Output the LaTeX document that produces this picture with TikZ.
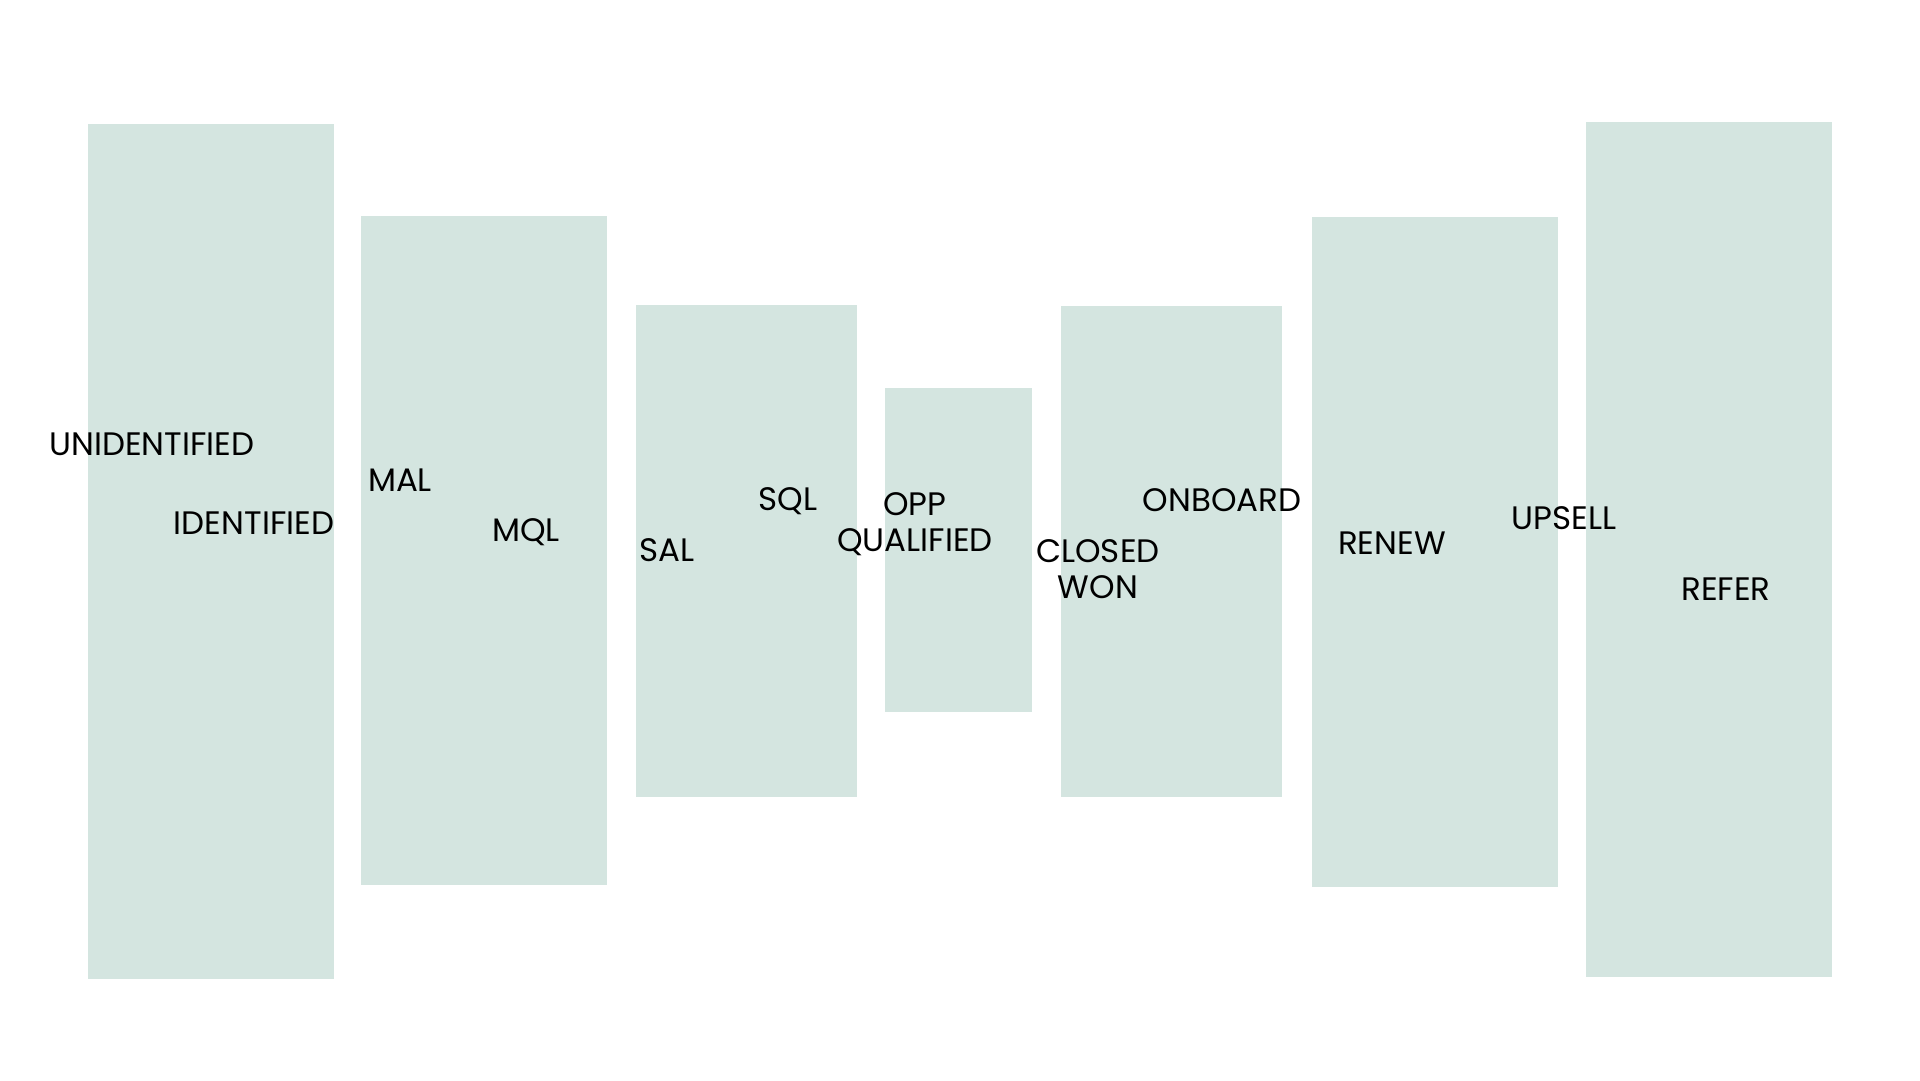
\documentclass[tikz,border=0pt]{standalone}
\usepackage{fontspec}
\setmainfont{Poppins}
\definecolor{stagefill}{RGB}{212,229,224}
\begin{document}
\begin{tikzpicture}[x=1pt,y=-1pt,
  stage/.style={fill=stagefill,draw=none},
  lbl/.style={font=\fontsize{32.5}{35.5}\selectfont,text=black,inner sep=0pt,align=center}]
\useasboundingbox (0,0) rectangle (1920,1080);
\fill[white] (0,0) rectangle (1920,1080);
\path[stage] (88,124) rectangle (334,979);
\path[stage] (361,216) rectangle (607,885);
\path[stage] (636,305) rectangle (857,797);
\path[stage] (885,388) rectangle (1032,712);
\path[stage] (1061,306) rectangle (1282,797);
\path[stage] (1312,217) rectangle (1558,887);
\path[stage] (1586,122) rectangle (1832,977);
\node[lbl] (unid) at (152,444) {UNIDENTIFIED};
\node[lbl] (id) at (254,523) {IDENTIFIED};
\node[lbl] (mal) at (400,480) {MAL};
\node[lbl] (mql) at (526,532) {MQL};
\node[lbl] (sal) at (667,550) {SAL};
\node[lbl] (sql) at (788,501) {SQL};
\node[lbl] (opp) at (915,524) {OPP\\QUALIFIED};
\node[lbl] (won) at (1098,569) {CLOSED\\WON};
\node[lbl] (onb) at (1222,500) {ONBOARD};
\node[lbl] (ren) at (1392,543) {RENEW};
\node[lbl] (ups) at (1564,518) {UPSELL};
\node[lbl] (ref) at (1726,589) {REFER};
\end{tikzpicture}
\end{document}
